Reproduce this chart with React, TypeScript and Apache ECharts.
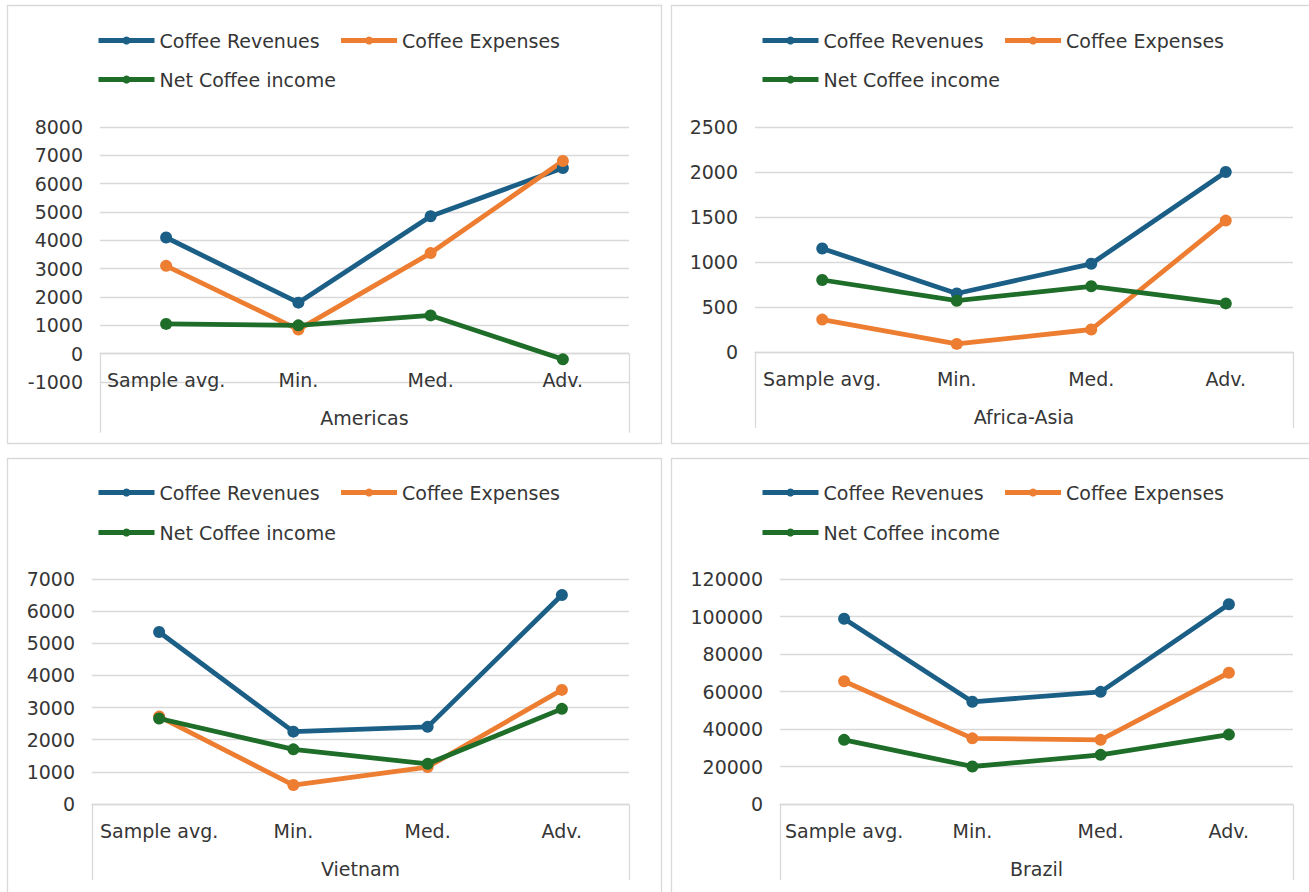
import React, { useEffect, useRef } from "react";
import * as echarts from "echarts";

const categories = ["Sample avg.", "Min.", "Med.", "Adv."];
const regions = ["Americas", "Africa-Asia", "Vietnam", "Brazil"];
const seriesNames = ["Coffee Revenues", "Coffee Expenses", "Net Coffee income"];

const americasRevenues = [4100, 1800, 4850, 6550];
const americasExpenses = [3100, 850, 3550, 6800];
const americasNet = [1050, 1000, 1350, -200];

const africaAsiaRevenues = [1150, 650, 980, 2000];
const africaAsiaExpenses = [360, 90, 250, 1460];
const africaAsiaNet = [800, 570, 730, 540];

const vietnamRevenues = [5350, 2250, 2400, 6500];
const vietnamExpenses = [2720, 590, 1150, 3550];
const vietnamNet = [2660, 1700, 1250, 2960];

const brazilRevenues = [98800, 54500, 59800, 106500];
const brazilExpenses = [65500, 35000, 34200, 70000];
const brazilNet = [34200, 20000, 26200, 37000];

const yMins = [-1000, 0, 0, 0];
const yMaxs = [8000, 2500, 7000, 120000];
const yIntervals = [1000, 500, 1000, 20000];

const panelData = [
  [americasRevenues, americasExpenses, americasNet],
  [africaAsiaRevenues, africaAsiaExpenses, africaAsiaNet],
  [vietnamRevenues, vietnamExpenses, vietnamNet],
  [brazilRevenues, brazilExpenses, brazilNet],
];

const COLORS = ["#1B5F87", "#ED7D31", "#1E6D28"];
const TEXT = "#363636";
const GRIDLINE = "#D9D9D9";
const FONT = "DejaVu Sans";
const FS = 19;

// layout (pixels)
const grids = [
  { left: 100, top: 127, width: 529, height: 255 },
  { left: 755, top: 127, width: 538, height: 225 },
  { left: 92, top: 579, width: 537, height: 225 },
  { left: 780, top: 579, width: 513, height: 225 },
];
const boxTick = [79, 76, 76, 76];
const legendPos = [
  { left: 96, top1: 31, top2: 70 },
  { left: 760, top1: 31, top2: 70 },
  { left: 96, top1: 483, top2: 523 },
  { left: 760, top1: 483, top2: 523 },
];
const panels = [
  { x: 7, y: 5, w: 654, h: 438 },
  { x: 671, y: 5, w: 660, h: 438 },
  { x: 7, y: 458, w: 654, h: 450 },
  { x: 671, y: 458, w: 660, h: 450 },
];

export default function App() {
  const ref = useRef<HTMLDivElement>(null);
  useEffect(() => {
    if (!ref.current) return;
    const chart = echarts.init(ref.current, null, { renderer: "svg" });

    const gridOpts: any[] = [];
    const xAxis: any[] = [];
    const yAxis: any[] = [];
    const series: any[] = [];
    const legend: any[] = [];

    // main plotting grids
    grids.forEach((g, i) => {
      gridOpts.push({ ...g });
      xAxis.push({
        type: "category",
        gridIndex: i,
        data: categories,
        boundaryGap: true,
        show: false,
      });
      yAxis.push({
        type: "value",
        gridIndex: i,
        min: yMins[i],
        max: yMaxs[i],
        interval: yIntervals[i],
        axisLine: { show: false },
        axisTick: { show: false },
        splitLine: { show: true, lineStyle: { color: GRIDLINE, width: 1.3 } },
        axisLabel: {
          color: TEXT,
          fontSize: FS,
          fontFamily: FONT,
          margin: 17,
          formatter: (v: number) => String(v),
        },
      });
      panelData[i].forEach((vals, s) => {
        series.push({
          type: "line",
          name: seriesNames[s],
          xAxisIndex: i,
          yAxisIndex: i,
          data: vals,
          symbol: "circle",
          symbolSize: 12,
          color: COLORS[s],
          lineStyle: { width: 4.8, color: COLORS[s] },
          itemStyle: { color: COLORS[s] },
        });
      });
      const lp = legendPos[i];
      const common = {
        orient: "horizontal",
        left: lp.left,
        padding: 0,
        itemWidth: 56,
        itemHeight: 10,
        itemGap: 19,
        selectedMode: false,
        lineStyle: { width: 5 },
        textStyle: { color: TEXT, fontSize: FS, fontFamily: FONT },
      };
      legend.push({ ...common, top: lp.top1, data: [seriesNames[0], seriesNames[1]] });
      legend.push({ ...common, top: lp.top2, data: [seriesNames[2]] });
    });

    // label grids: bottom edge sits on the value axis zero line
    grids.forEach((g, i) => {
      const zeroFrac = (yMaxs[i] - 0) / (yMaxs[i] - yMins[i]);
      const gi = grids.length + i;
      gridOpts.push({ left: g.left, top: g.top, width: g.width, height: g.height * zeroFrac });
      xAxis.push({
        type: "category",
        gridIndex: gi,
        position: "bottom",
        data: categories,
        boundaryGap: true,
        axisLine: { show: true, onZero: false, lineStyle: { color: GRIDLINE, width: 1.3 } },
        axisTick: { show: false },
        splitLine: { show: false },
        axisLabel: { interval: 0, color: TEXT, fontSize: FS, fontFamily: FONT, margin: 17 },
      });
      xAxis.push({
        type: "category",
        gridIndex: gi,
        position: "bottom",
        data: [regions[i]],
        boundaryGap: true,
        axisLine: { show: false, onZero: false },
        axisTick: { show: true, length: boxTick[i], lineStyle: { color: GRIDLINE, width: 1.3 } },
        splitLine: { show: false },
        axisLabel: { interval: 0, color: TEXT, fontSize: FS, fontFamily: FONT, margin: 55 },
      });
      yAxis.push({ type: "value", gridIndex: gi, min: 0, max: 1, show: false });
    });

    const graphic = panels.map((p) => ({
      type: "rect",
      silent: true,
      z: -10,
      shape: { x: p.x + 0.5, y: p.y + 0.5, width: p.w, height: p.h },
      style: { fill: "none", stroke: GRIDLINE, lineWidth: 1.3 },
    }));

    chart.setOption({
      animation: false,
      backgroundColor: "#ffffff",
      textStyle: { fontFamily: FONT },
      grid: gridOpts,
      xAxis,
      yAxis,
      series,
      legend,
      graphic,
    });
    return () => chart.dispose();
  }, []);

  return (
    <div
      ref={ref}
      style={{ position: "absolute", left: 0, top: 0, width: 1309, height: 892, background: "#fff" }}
    />
  );
}
